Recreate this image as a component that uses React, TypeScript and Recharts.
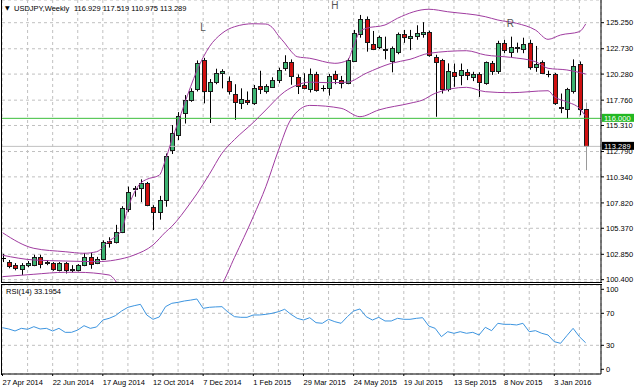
import React from 'react';
import {
  ComposedChart,
  Bar,
  Line,
  XAxis,
  YAxis,
  CartesianGrid,
  ReferenceLine,
  ReferenceDot,
} from 'recharts';

const FONT = '"Liberation Sans", Arial, sans-serif';
const GREEN = '#3cb371';
const RED = '#d01010';
const PURPLE = '#a03ca0';
const RSI_BLUE = '#3d95e0';
const GRID = '#c0c0c0';

// ---------- weekly USDJPY candles (27 Apr 2014 .. 7 Feb 2016) ----------
const opens = [
  102.52, 102.15, 101.8, 101.45, 101.85, 101.8, 102.6, 102.05, 102.0, 101.3,
  102.0, 101.35, 101.35, 101.8, 102.6, 102.05, 102.4, 104.1, 104.05, 105.05,
  107.2, 109.2, 109.3, 109.7, 107.45, 106.9, 108.1, 112.9, 114.4, 116.5,
  117.8, 118.8, 121.6, 118.6, 119.5, 120.35, 119.65, 118.4, 117.45, 117.8,
  117.5, 119.15, 118.6, 119.05, 119.7, 120.85, 121.45, 120.0, 119.25, 118.8,
  120.3, 118.9, 118.9, 120.25, 119.75, 119.4, 121.55, 124.15, 125.6, 123.2,
  122.9, 122.6, 121.5, 122.45, 124.15, 123.75, 123.95, 124.15, 124.35, 121.95,
  121.6, 118.8, 120.5, 120.2, 120.5, 120.0, 120.3, 119.4, 121.4, 120.55,
  123.3, 122.45, 122.82, 122.75, 123.25, 121.0, 121.45, 120.32, 120.3, 117.05,
  116.9, 118.65, 121.25, 116.929,
];
const highs = [
  102.9, 102.3, 102.0, 102.0, 102.2, 102.8, 102.8, 102.3, 102.1, 102.1,
  102.1, 101.8, 101.9, 102.98, 103.0, 102.6, 104.2, 104.5, 105.7, 107.5,
  109.4, 109.46, 110.1, 109.85, 107.6, 108.5, 112.6, 115.35, 116.6, 118.25,
  118.9, 121.6, 121.85, 119.8, 120.8, 120.75, 120.05, 119.3, 118.9, 118.6,
  119.23, 120.6, 119.3, 119.97, 120.9, 122.1, 121.7, 120.25, 120.36, 120.82,
  120.5, 119.2, 120.3, 120.6, 120.1, 121.8, 124.55, 126.0, 125.85, 124.45,
  124.0, 123.9, 122.95, 124.3, 124.55, 124.55, 125.0, 125.3, 124.48, 122.15,
  121.75, 121.32, 121.3, 121.3, 120.75, 120.5, 120.45, 121.5, 121.55, 123.5,
  123.6, 123.9, 123.32, 123.8, 123.6, 123.0, 121.6, 120.61, 120.4, 118.4,
  118.95, 121.7, 121.5, 117.519,
];
const lows = [
  102.1, 101.5, 101.3, 100.85, 101.6, 101.7, 101.5, 101.8, 101.25, 101.2,
  101.0, 101.1, 101.2, 101.7, 101.45, 101.9, 102.3, 103.5, 103.9, 104.9,
  106.95, 108.42, 107.9, 107.5, 105.2, 106.2, 107.45, 112.55, 113.9, 115.5,
  117.6, 118.6, 117.45, 115.55, 119.3, 118.9, 118.3, 115.85, 116.9, 117.3,
  117.3, 118.35, 118.4, 118.96, 119.4, 120.6, 119.25, 118.35, 118.81, 118.5,
  118.58, 118.6, 118.2, 119.3, 118.9, 119.3, 121.5, 123.8, 122.45, 122.6,
  122.7, 121.7, 120.45, 122.2, 123.3, 122.6, 123.6, 123.8, 121.96, 116.15,
  118.4, 118.6, 119.05, 119.2, 119.7, 119.6, 118.07, 119.25, 120.2, 120.3,
  122.3, 121.9, 122.35, 122.3, 120.7, 120.5, 120.3, 119.97, 117.3, 116.5,
  115.97, 118.4, 116.3, 110.975,
];
const closes = [
  102.48, 101.7, 101.5, 101.85, 102.0, 102.6, 101.9, 102.1, 101.4, 102.0,
  101.3, 101.4, 101.85, 102.6, 101.9, 102.4, 104.05, 103.95, 105.05, 107.3,
  108.9, 109.25, 109.75, 107.65, 106.9, 108.1, 112.35, 114.6, 116.25, 117.75,
  118.65, 121.4, 118.65, 119.5, 120.35, 120.55, 118.6, 117.6, 117.85, 117.55,
  118.9, 118.82, 119.1, 119.7, 120.7, 121.45, 120.05, 119.15, 118.95, 120.3,
  118.75, 118.95, 120.1, 119.78, 119.4, 121.62, 124.28, 125.65, 123.35, 122.75,
  123.9, 122.75, 122.85, 124.12, 123.88, 123.95, 124.28, 124.38, 122.12, 121.45,
  118.8, 120.6, 120.05, 120.65, 120.2, 120.28, 119.55, 121.45, 120.62, 123.3,
  122.62, 122.92, 122.87, 123.18, 120.95, 121.3, 120.38, 120.27, 117.45, 117.0,
  118.88, 121.05, 116.95, 113.289,
];

// ---------- RSI(14) ----------
const rsiValues = [
  52, 50.4, 47.9, 51.2, 50, 53.3, 50.4, 51.2, 47.9, 51.2,
  46.2, 46.2, 49.1, 54.5, 51.2, 52.9, 61.6, 63.7, 67, 72.9,
  77.5, 79.5, 81.2, 67.9, 62.5, 65.4, 78.3, 82.5, 83.7, 85.4,
  86.5, 87.9, 76.2, 77.5, 78, 78.3, 71.2, 65.8, 65, 65,
  67.9, 67.9, 68.7, 70, 72, 75, 68.7, 63.7, 61.6, 64.5,
  58.3, 57.5, 62.5, 59.5, 57.5, 65.8, 72.9, 75.4, 65.8, 61.6,
  65, 60.4, 60.4, 63.7, 62.5, 62.5, 63.7, 64.5, 54, 51.2,
  40.8, 47, 45, 47, 45, 46.2, 42.9, 52.5, 48.3, 57.5,
  56.2, 56.2, 55.4, 57.5, 47, 48.3, 45, 42.9, 34.5, 32.5,
  42, 51.2, 40.8, 33.2,
];

// ---------- Bollinger bands, [week index, value] ----------
const bbUpper: [number, number][] = [
  [0, 104.94], [5, 103.43], [10, 103.1], [13, 102.95], [15, 103.1], [17, 104.14],
  [19, 105.2], [20, 107.3], [22, 109.72], [23, 110.1], [25, 110.5], [26, 112.0],
  [27, 113.9], [28, 115.6], [30, 119.06], [31, 120.6], [33, 122.93], [35, 124.22],
  [37, 124.86], [40, 125.15], [42, 125.12], [43, 124.8], [44, 124.0], [45, 123.29],
  [46, 122.5], [47, 121.96], [49, 121.81], [53, 121.32], [55, 121.6], [56, 123.0],
  [57, 124.4], [58, 124.7], [61, 125.03], [63, 125.68], [68, 126.55], [71, 126.31],
  [77, 125.83], [79, 125.51], [82, 125.19], [85, 124.54], [87, 123.64], [89, 124.06],
  [92, 124.38], [93, 125.12],
];
const bbMiddle: [number, number][] = [
  [0, 102.76], [5, 102.3], [10, 102.2], [15, 102.14], [18, 102.3], [21, 102.78],
  [24, 103.75], [26, 105.0], [27, 105.55], [30, 107.85], [31, 108.7], [33, 110.6],
  [35, 112.62], [37, 113.95], [40, 115.6], [42, 116.81], [45, 118.58], [47, 119.23],
  [49, 119.5], [52, 119.45], [55, 119.5], [58, 120.36], [62, 121.32], [65, 121.71],
  [68, 122.29], [74, 122.54], [77, 122.13], [81, 121.9], [85, 121.48], [87, 120.84],
  [90, 120.68], [93, 120.29],
];
const bbLower: [number, number][] = [
  [0, 100.69], [5, 100.92], [10, 101.11], [12, 101.11], [17, 100.85], [18, 100.3],
  [20, 97.8], [24, 97.2], [28, 97.5], [32, 97.6], [34, 99.3], [35, 100.0],
  [37, 102.55], [40, 106.5], [42, 109.39], [44, 112.9], [46, 115.9], [49, 117.25],
  [54, 116.97], [57, 116.16], [60, 116.81], [65, 117.46], [67, 117.77], [69, 118.42],
  [74, 119.0], [77, 118.58], [81, 118.48], [87, 118.67], [88, 118.09], [90, 117.6],
  [92, 116.97], [93, 116.2],
];

// ---------- axes ----------
const priceTicks = [100.4, 102.85, 105.37, 107.82, 110.34, 112.79, 115.31, 117.76, 120.28, 122.73, 125.25];
const rsiTicks = [0, 30, 70, 100];
const rsiLevels = [30, 70];
const dateTickIdx = [0, 8, 16, 24, 32, 40, 48, 56, 64, 72, 80, 88];
const dateLabels = [
  '27 Apr 2014', '22 Jun 2014', '17 Aug 2014', '12 Oct 2014', '7 Dec 2014', '1 Feb 2015',
  '29 Mar 2015', '24 May 2015', '19 Jul 2015', '13 Sep 2015', '8 Nov 2015', '3 Jan 2016',
];
const gridWeeks = [4, 8, 12, 16, 20, 24, 28, 32, 36, 40, 44, 48, 52, 56, 60, 64, 68, 72, 76, 80, 84, 88, 92];
const patternMarks = [
  { i: 32, price: 124.79, text: 'L' },
  { i: 53, price: 126.87, text: 'H' },
  { i: 81, price: 125.22, text: 'R' },
];
const supportLevel = 116.0;
const lastClose = 113.289;

const X_DOMAIN: [number, number] = [-0.08, 95.45];
const PRICE_DOMAIN: [number, number] = [100.172, 127.445];
const RSI_DOMAIN: [number, number] = [-5.875, 105.375];

type Row = {
  i: number; open: number; high: number; low: number; close: number; rsi: number;
  bbU: number | null; bbM: number | null; bbL: number | null; last: boolean;
};
const data: Row[] = opens.map((o, i) => ({
  i, open: o, high: highs[i], low: lows[i], close: closes[i], rsi: rsiValues[i],
  bbU: null, bbM: null, bbL: null, last: i === opens.length - 1,
}));
bbUpper.forEach(([i, v]) => { data[i].bbU = v; });
bbMiddle.forEach(([i, v]) => { data[i].bbM = v; });
bbLower.forEach(([i, v]) => { data[i].bbL = v; });

const CandleShape = (props: any) => {
  const { x, y, width, height, payload } = props;
  if (!payload || x == null || y == null) return null;
  const { open, close, high, low, last } = payload as Row;
  const h = Math.abs(height || 0);
  const yTop = Math.min(y, y + (height || 0));
  const k = high - low > 0 ? h / (high - low) : 0;
  const py = (v: number) => yTop + (high - v) * k;
  const c = Math.round(x + width / 2);
  const bTop = Math.round(py(Math.max(open, close)));
  const bBot = Math.round(py(Math.min(open, close)));
  const up = close > open;
  const wick = last ? '#9a9a9a' : '#000';
  return (
    <g>
      <line x1={c + 0.5} x2={c + 0.5} y1={py(high)} y2={py(low)} stroke={wick} strokeWidth={1} />
      {bBot - bTop < 1 ? (
        <line x1={c - 2} x2={c + 3} y1={bTop + 0.5} y2={bTop + 0.5} stroke="#000" strokeWidth={1} />
      ) : (
        <rect x={c - 1.5} y={bTop + 0.5} width={4} height={bBot - bTop} fill={up ? GREEN : RED} stroke="#1a1a1a" strokeWidth={1} />
      )}
    </g>
  );
};

const priceTag = (text: string, bg: string, up: number, down: number) => (props: any) => {
  const vb = props.viewBox || props;
  const x = (vb.x || 0) + (vb.width || 0) + 1;
  const y = vb.y || 0;
  return (
    <g>
      <rect x={x} y={y - up} width={32} height={up + down} fill={bg} />
      <text x={x + 2} y={y + 2.6} fontSize={7.5} fontFamily={FONT} fill="#fff">{text}</text>
    </g>
  );
};

const DateTick = (props: any) => {
  const { x, y, payload } = props;
  const idx = dateTickIdx.indexOf(payload.value);
  return (
    <text x={x} y={y} dy={7} textAnchor="start" fontSize={7.5} fontFamily={FONT} fill="#000">
      {idx >= 0 ? dateLabels[idx] : ''}
    </text>
  );
};

const axisTick = { fontSize: 7.5, fill: '#000', fontFamily: FONT };

export default function App() {
  return (
    <div style={{ position: 'absolute', left: 0, top: 0, width: 635, height: 391, background: '#fff', overflow: 'hidden', fontFamily: FONT }}>
      <div style={{ position: 'absolute', left: 0, top: 0 }}>
        <ComposedChart width={635} height={283} data={data} margin={{ top: 0, right: 0, bottom: 1, left: 2 }}>
          <CartesianGrid stroke={GRID} strokeDasharray="3 3" />
          <XAxis type="number" dataKey="i" domain={X_DOMAIN} ticks={gridWeeks} hide allowDataOverflow />
          <YAxis
            orientation="right"
            domain={PRICE_DOMAIN}
            ticks={priceTicks}
            interval={0}
            width={34}
            allowDataOverflow
            tick={axisTick}
            tickSize={3}
            tickMargin={2}
            axisLine={{ stroke: '#000' }}
            tickLine={{ stroke: '#000' }}
            tickFormatter={(v: number) => v.toFixed(3)}
          />
          <ReferenceLine y={lastClose} stroke="#c0c0c0" strokeWidth={1} label={priceTag(lastClose.toFixed(3), '#000', 4.5, 3.5)} />
          <ReferenceLine y={supportLevel} stroke="#3cbf3c" strokeWidth={1} label={priceTag(supportLevel.toFixed(3), '#22b822', 4.5, 3.5)} />
          <Bar dataKey={(d: Row) => [d.low, d.high]} barSize={5} shape={(p: any) => <CandleShape {...p} />} isAnimationActive={false} />
          <Line dataKey="bbU" type="monotone" stroke={PURPLE} strokeWidth={1} dot={false} connectNulls isAnimationActive={false} />
          <Line dataKey="bbM" type="monotone" stroke={PURPLE} strokeWidth={1} dot={false} connectNulls isAnimationActive={false} />
          <Line dataKey="bbL" type="monotone" stroke={PURPLE} strokeWidth={1} dot={false} connectNulls isAnimationActive={false} />
          {patternMarks.map((m) => (
            <ReferenceDot
              key={m.text}
              x={m.i}
              y={m.price}
              r={0}
              fill="none"
              stroke="none"
              label={{ value: m.text, position: 'center', fill: '#555', fontSize: 10, fontFamily: FONT }}
            />
          ))}
        </ComposedChart>
      </div>
      <div style={{ position: 'absolute', left: 0, top: 284 }}>
        <ComposedChart width={635} height={107} data={data} margin={{ top: 1, right: 0, bottom: 0, left: 2 }}>
          <CartesianGrid stroke={GRID} strokeDasharray="3 3" xAxisId="grid" yAxisId="grid" />
          <XAxis xAxisId="grid" type="number" dataKey="i" domain={X_DOMAIN} ticks={gridWeeks} hide allowDataOverflow />
          <YAxis yAxisId="grid" domain={RSI_DOMAIN} ticks={rsiLevels} hide allowDataOverflow />
          <XAxis
            type="number"
            dataKey="i"
            domain={X_DOMAIN}
            ticks={dateTickIdx}
            interval={0}
            height={17}
            tick={<DateTick />}
            tickSize={2}
            allowDataOverflow
            axisLine={{ stroke: '#000' }}
            tickLine={{ stroke: '#000' }}
          />
          <YAxis
            orientation="right"
            domain={RSI_DOMAIN}
            ticks={rsiTicks}
            interval={0}
            width={34}
            allowDataOverflow
            tick={axisTick}
            tickSize={3}
            tickMargin={2}
            axisLine={{ stroke: '#000' }}
            tickLine={{ stroke: '#000' }}
          />
          <Line dataKey="rsi" type="linear" stroke={RSI_BLUE} strokeWidth={1} dot={false} isAnimationActive={false} />
        </ComposedChart>
      </div>
      {/* panel frames */}
      <div style={{ position: 'absolute', left: 1, top: 0, width: 1, height: 283, background: '#000' }} />
      <div style={{ position: 'absolute', left: 1, top: 282, width: 601, height: 1, background: '#000' }} />
      <div style={{ position: 'absolute', left: 1, top: 284, width: 601, height: 1, background: '#000' }} />
      <div style={{ position: 'absolute', left: 1, top: 284, width: 1, height: 91, background: '#000' }} />
      <svg width={635} height={391} style={{ position: 'absolute', left: 0, top: 0, pointerEvents: 'none' }}>
        <text x={5} y={10} fontSize={6} fontFamily={'"DejaVu Sans", sans-serif'} fill="#000">▼</text>
        <text x={14} y={10.5} fontSize={7.5} fontFamily={FONT} fill="#000">USDJPY,Weekly</text>
        <text x={74} y={10.5} fontSize={7.5} fontFamily={FONT} fill="#000">116.929 117.519 110.975 113.289</text>
        <text x={6} y={294} fontSize={7.5} fontFamily={FONT} fill="#000">RSI(14) 33.1954</text>
      </svg>
    </div>
  );
}
